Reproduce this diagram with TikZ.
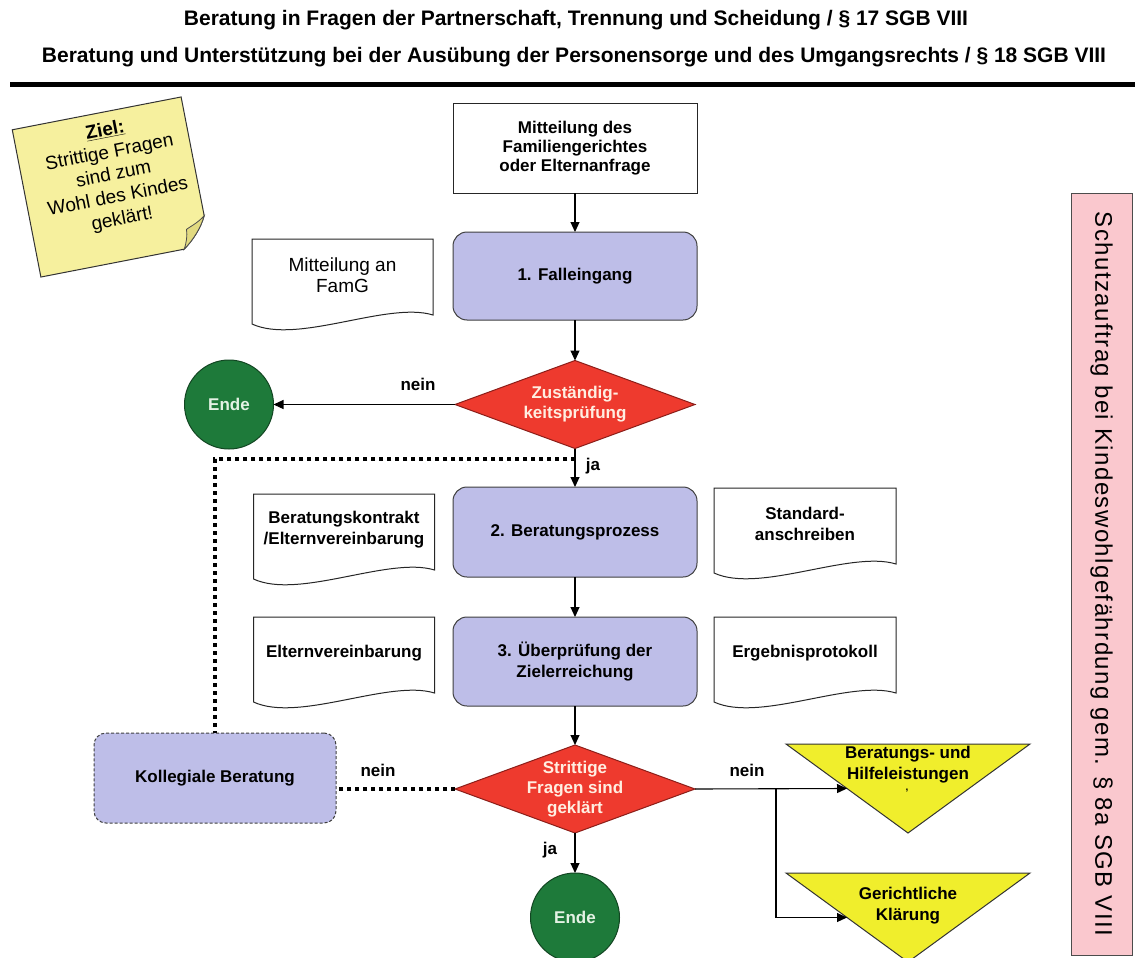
\documentclass[tikz,border=0pt]{standalone}
\usepackage{fontspec}
\setmainfont{Liberation Sans}
\usetikzlibrary{shapes.geometric,arrows.meta,calc}

\definecolor{procfill}{RGB}{190,190,232}
\definecolor{decfill}{RGB}{238,58,46}
\definecolor{decedge}{RGB}{140,30,25}
\definecolor{declabel}{RGB}{255,238,225}
\definecolor{endfill}{RGB}{30,122,58}
\definecolor{endedge}{RGB}{18,70,34}
\definecolor{endlabel}{RGB}{228,242,228}
\definecolor{trifill}{RGB}{240,238,44}
\definecolor{notefill}{RGB}{246,240,158}
\definecolor{notefold}{RGB}{226,218,128}
\definecolor{sidefill}{RGB}{250,200,206}

\newcommand\fs[2]{\fontsize{#1}{#2}\selectfont}
% document symbol: straight top and sides, wavy bottom edge below the node
\newcommand\docoutline[1]{%
  \draw[docline] (#1.north west) -- (#1.north east) -- ($(#1.south east)+(0,4)$)
    .. controls ($(#1.south)+(45,-10)$) and ($(#1.south)+(-45,34)$) ..
    ($(#1.south west)+(0,13)$) -- cycle;}

\begin{document}
\begin{tikzpicture}[x=1pt,y=-1pt,
  every node/.style={inner sep=0pt,outer sep=0pt},
  title/.style={font=\fs{21}{25}\bfseries},
  startbox/.style={draw=black!85,line width=1pt,fill=white,minimum width=244pt,
    minimum height=90pt,align=center,font=\fs{17}{19}\bfseries},
  procbox/.style={draw=black!75,line width=1pt,fill=procfill,rounded corners=14pt,
    minimum width=244pt,minimum height=89pt,align=center,font=\fs{17}{21}\bfseries},
  docbox/.style={minimum width=181pt,minimum height=72pt,anchor=north,align=center,
    font=\fs{17}{21}\bfseries},
  docline/.style={draw=black!85,line width=1pt},
  decision/.style={shape=diamond,draw=decedge,line width=1pt,fill=decfill,
    minimum width=240pt,minimum height=88pt},
  dectext/.style={align=center,text=declabel,font=\fs{17}{20}\bfseries},
  endnode/.style={circle,draw=endedge,line width=1pt,fill=endfill,minimum size=89pt,
    text=endlabel,font=\fs{17}{20}\bfseries},
  outcome/.style={minimum width=244pt,minimum height=89pt},
  outcomeline/.style={draw=black!80,line width=1pt,fill=trifill},
  outcometext/.style={align=center,font=\fs{17}{21}\bfseries},
  arr/.style={draw=black,line width=1.1pt,-{Triangle[length=10pt,width=9pt]}},
  dotl/.style={draw=black,line width=4pt,dash pattern=on 4pt off 4pt},
  lbl/.style={font=\fs{17}{20}\bfseries}]

\useasboundingbox[fill=white] (0,0) rectangle (1135,958);

% headings
\node[title] (title1) at (576,20) {Beratung in Fragen der Partnerschaft, Trennung und Scheidung / § 17 SGB VIII};
\node[title] (title2) at (574,57) {Beratung und Unterstützung bei der Ausübung der Personensorge und des Umgangsrechts / § 18 SGB VIII};
\draw[line width=5pt] (10,84) -- (1135,84);

% sticky note with the goal
\begin{scope}[shift={(111,187)},rotate=11]
  \draw[draw=black!80,line width=1pt,fill=notefill]
    (-86,-75) -- (86,-75) -- (86,46) .. controls (80,58) and (70,68) .. (60,75) -- (-86,75) -- cycle;
  \draw[draw=black!70,line width=0.8pt,fill=notefold]
    (86,46) .. controls (78,52) and (70,54) .. (66,56) .. controls (66,62) and (63,70) .. (60,75)
    .. controls (70,68) and (80,58) .. (86,46) -- cycle;
  \node[transform shape,align=center,font=\fs{19}{22.5}] (goal) at (5,-11)
    {\underline{\textbf{Ziel:}}\\Strittige Fragen\\sind zum\\Wohl des Kindes\\geklärt!};
\end{scope}

% main flow
\node[startbox] (start) at (575,148) {Mitteilung des\\Familiengerichtes\\oder Elternanfrage};
\node[procbox,minimum height=88pt] (fall) at (575,276) {1. Falleingang};
\node[docbox,font=\fs{19}{21}] (famg) at (342.5,239) {Mitteilung an\\FamG};
\docoutline{famg}

\node[decision] (d1) at (575,404.5) {};
\node[dectext] (d1t) at (d1) {Zuständig-\\keitsprüfung};
\node[endnode] (ende1) at (229,404.5) {Ende};

\node[procbox,minimum height=90pt] (berat) at (575,532) {2. Beratungsprozess};
\node[docbox] (kontrakt) at (344,494) {Beratungskontrakt\\/Elternvereinbarung};
\docoutline{kontrakt}
\node[docbox,minimum width=182pt] (standard) at (805,488) {Standard-\\anschreiben};
\docoutline{standard}

\node[procbox] (ueber) at (575,661.5) {3. Überprüfung der\\Zielerreichung};
\node[docbox] (eltern) at (344,617) {Elternvereinbarung};
\docoutline{eltern}
\node[docbox,minimum width=182pt] (ergeb) at (805,617) {Ergebnisprotokoll};
\docoutline{ergeb}

\node[decision] (d2) at (575,789) {};
\node[dectext] (d2t) at (d2) {Strittige\\Fragen sind\\geklärt};
\node[endnode] (ende2) at (575,917.5) {Ende};

\node[procbox,rounded corners=12pt,dash pattern=on 3pt off 2pt,minimum width=242pt,
  minimum height=90pt] (koll) at (215,778) {Kollegiale Beratung};

% outcomes (downward triangles)
\node[outcome] (h1) at (908,788.5) {};
\draw[outcomeline] (h1.north west) -- (h1.north east) -- (h1.south) -- cycle;
\node[outcometext] (h1t) at (908,765) {Beratungs- und\\Hilfeleistungen};
\node[font=\fs{10}{10}\bfseries] (h1c) at (907,791) {,};
\node[outcome] (h2) at (908,917.5) {};
\draw[outcomeline] (h2.north west) -- (h2.north east) -- (h2.south) -- cycle;
\node[outcometext] (h2t) at (908,906) {Gerichtliche\\Klärung};
\coordinate (h1in) at ($(h1.north west)!0.5!(h1.south)$);
\coordinate (h2in) at ($(h2.north west)!0.5!(h2.south)$);

% side bar
\node[draw=black!70,line width=1pt,fill=sidefill,rotate=-90,minimum width=762pt,
  minimum height=61pt,font=\fs{24}{28}\addfontfeature{LetterSpace=6}] (side) at (1101.5,574)
  {Schutzauftrag bei Kindeswohlgefährdung gem. § 8a SGB VIII};

% connectors
\draw[arr] (start.south) -- (fall.north);
\draw[arr] (fall.south) -- (d1.north);
\draw[arr] (d1.west) -- (ende1.east);
\node[lbl] (nein1) at (418,384) {nein};
\coordinate (jaPt) at (575,459);
\draw[dotl] (jaPt) -| (koll.north);
\draw[arr] (d1.south) -- (berat.north);
\node[lbl] (ja1) at (593,466) {ja};
\draw[arr] (berat.south) -- (ueber.north);
\draw[arr] (ueber.south) -- (d2.north);
\draw[dotl] (d2.west) -- (d2.west -| koll.east);
\node[lbl] (nein2) at (378,770) {nein};
\draw[arr] (d2.south) -- (ende2.north);
\node[lbl] (ja2) at (550,850) {ja};
\draw[arr] (d2.east) -- (h1in);
\node[lbl] (nein3) at (747,770) {nein};
\coordinate (fork) at (776,789);
\draw[arr] (fork) |- (h2in);
\end{tikzpicture}
\end{document}
